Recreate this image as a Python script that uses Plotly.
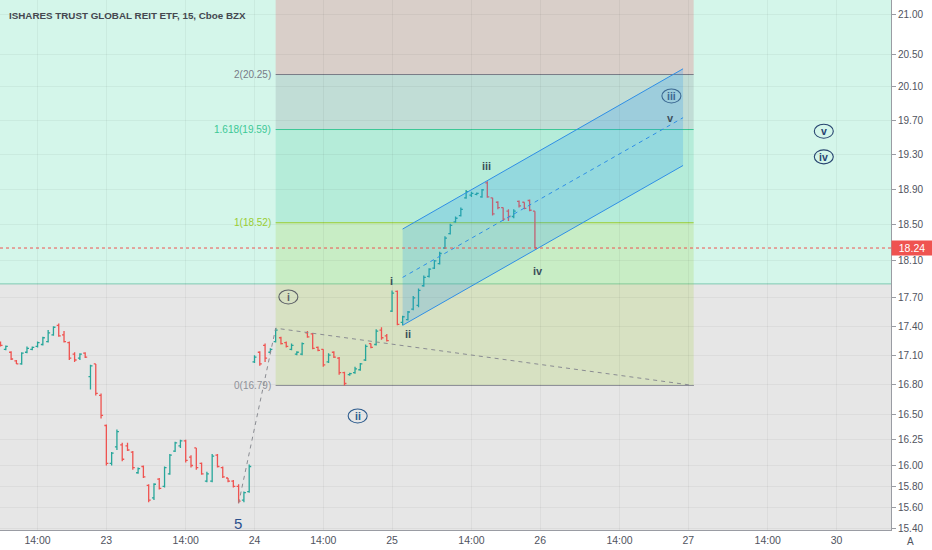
import math
import plotly.graph_objects as go

# ---------------- data ----------------
title_text = "ISHARES TRUST GLOBAL REIT ETF, 15, Cboe BZX"

# x tick positions are bar indices (15-minute bars)
tick_idx = [7, 20, 35, 48, 61, 74, 89, 102, 117, 130, 145, 158]
tick_txt = ["14:00", "23", "14:00", "24", "14:00", "25", "14:00", "26", "14:00", "27", "14:00", "30"]

price_ticks = [15.40, 15.60, 15.80, 16.00, 16.25, 16.50, 16.80, 17.10, 17.40, 17.70,
               18.10, 18.50, 18.90, 19.30, 19.70, 20.10, 20.50, 21.00]

opens = [17.23, 17.16, 17.13, 17.04, 17.01, 17.13, 17.16, 17.19, 17.21, 17.24,
         17.31, 17.41, 17.31, 17.23, 17.11, 17.07, 17.12, 16.88, 17.01, 16.69,
         16.39, 16.02, 16.18, 16.20, 16.19, 16.13, 15.93, 15.99, 15.81, 15.69,
         15.87, 15.80, 15.92, 16.14, 16.19, 16.24, 16.08, 16.17, 16.02, 15.85,
         15.85, 16.10, 15.98, 15.88, 15.85, 15.80, 15.67, 15.75, 17.03, 17.13,
         17.20, 17.13, 17.24, 17.28, 17.23, 17.16, 17.11, 17.11, 17.33, 17.32,
         17.18, 17.16, 17.03, 17.13, 17.07, 16.92, 16.90, 16.92, 16.95, 17.05,
         17.22, 17.21, 17.36, 17.30, 17.56, 17.77, 17.44, 17.47, 17.58, 17.62,
         17.83, 17.93, 18.02, 18.07, 18.24, 18.40, 18.53, 18.60, 18.80, 18.83,
         18.84, 18.81, 18.97, 18.80, 18.75, 18.69, 18.65, 18.59, 18.76, 18.75,
         18.77, 18.65]
highs = [17.24, 17.20, 17.14, 17.05, 17.13, 17.19, 17.19, 17.24, 17.29, 17.36,
         17.40, 17.43, 17.35, 17.24, 17.13, 17.12, 17.13, 17.00, 17.01, 16.71,
         16.40, 16.13, 16.35, 16.22, 16.22, 16.14, 15.98, 16.00, 15.82, 15.83,
         15.88, 15.99, 16.11, 16.23, 16.25, 16.25, 16.10, 16.17, 16.03, 15.94,
         16.11, 16.11, 15.99, 15.88, 15.86, 15.82, 15.75, 16.01, 17.10, 17.14,
         17.22, 17.17, 17.38, 17.29, 17.24, 17.22, 17.14, 17.23, 17.35, 17.33,
         17.19, 17.16, 17.12, 17.14, 17.08, 16.93, 16.92, 16.98, 17.02, 17.21,
         17.22, 17.37, 17.39, 17.32, 17.78, 17.78, 17.51, 17.56, 17.72, 17.80,
         17.94, 18.02, 18.11, 18.20, 18.37, 18.51, 18.59, 18.69, 18.89, 18.87,
         18.86, 18.90, 18.99, 18.80, 18.76, 18.69, 18.67, 18.67, 18.77, 18.75,
         18.78, 18.65]
lows = [17.19, 17.15, 17.05, 17.01, 17.00, 17.12, 17.15, 17.18, 17.20, 17.23,
        17.30, 17.29, 17.23, 17.05, 17.03, 17.05, 17.07, 16.75, 16.69, 16.46,
        16.00, 16.00, 16.15, 16.04, 16.14, 15.96, 15.92, 15.88, 15.65, 15.67,
        15.77, 15.79, 15.91, 16.13, 16.17, 16.03, 15.98, 15.96, 15.91, 15.84,
        15.84, 15.98, 15.88, 15.84, 15.79, 15.64, 15.65, 15.74, 17.02, 16.99,
        17.03, 17.12, 17.23, 17.21, 17.18, 17.15, 17.10, 17.10, 17.28, 17.16,
        17.14, 16.98, 17.02, 17.07, 16.90, 16.79, 16.89, 16.91, 16.94, 17.04,
        17.17, 17.20, 17.26, 17.24, 17.55, 17.41, 17.41, 17.46, 17.57, 17.60,
        17.82, 17.92, 18.01, 18.06, 18.23, 18.39, 18.52, 18.59, 18.79, 18.81,
        18.83, 18.80, 18.80, 18.60, 18.67, 18.54, 18.54, 18.57, 18.69, 18.67,
        18.65, 18.24]
closes = [17.20, 17.19, 17.06, 17.01, 17.12, 17.17, 17.18, 17.23, 17.28, 17.33,
          17.39, 17.30, 17.24, 17.07, 17.05, 17.11, 17.08, 16.99, 16.71, 16.49,
          16.02, 16.12, 16.33, 16.06, 16.15, 15.98, 15.97, 15.89, 15.67, 15.82,
          15.78, 15.98, 16.10, 16.22, 16.24, 16.05, 16.00, 15.98, 15.92, 15.92,
          16.09, 15.99, 15.89, 15.85, 15.80, 15.66, 15.74, 15.99, 17.08, 17.01,
          17.07, 17.16, 17.36, 17.22, 17.19, 17.20, 17.13, 17.22, 17.29, 17.17,
          17.15, 17.00, 17.10, 17.08, 16.92, 16.81, 16.91, 16.96, 17.01, 17.19,
          17.18, 17.35, 17.28, 17.25, 17.75, 17.42, 17.50, 17.55, 17.70, 17.78,
          17.92, 18.01, 18.10, 18.18, 18.35, 18.49, 18.57, 18.67, 18.87, 18.85,
          18.85, 18.89, 18.81, 18.62, 18.69, 18.56, 18.59, 18.65, 18.71, 18.68,
          18.66, 18.24]

last_price = 18.24
zone_low = 17.85            # lower edge of the mint rectangle

# trend-based fib extension: points A (wave 5 low), B (wave i high), C
fib_pts_x = [45, 52, 131]
fib_pts_y = [15.64, 17.38, 16.79]
fib_levels = ["0", "1", "1.618", "2", "2.618"]
fib_prices = [16.79, 18.52, 19.59, 20.25, 21.32]
fib_colors = ["#8f9199", "#9acd32", "#3cc896", "#787b86", "#f23645"]

# parallel channel
chan_x = [76, 129]
chan_upper = [18.45, 20.32]
chan_mid = [17.92, 19.73]
chan_lower = [17.41, 19.17]

# elliott wave labels
circ_labels = ["i", "ii", "iii", "v", "iv"]
circ_x = [54.4, 67.5, 126.8, 155.6, 155.6]
circ_y = [17.71, 16.485, 19.99, 19.57, 19.27]
circ_colors = ["#5b5e66", "#2b5a8c", "#3b6892", "#27446f", "#27446f"]

small_labels = ["i", "ii", "iii", "iv", "v"]
small_x = [73.9, 77.1, 91.9, 101.5, 126.7]
small_y = [17.88, 17.32, 19.16, 17.99, 19.725]

wave5_label = "5"
wave5_x = 44.8
wave5_y = 15.455

# ---------------- figure ----------------
FONT = "Liberation Sans"
lg = math.log10
x_min, x_max = -0.1, 168.3
y_min, y_max = 15.39, 21.18

fig = go.Figure()

fig.add_trace(go.Ohlc(
    x=list(range(len(opens))), open=opens, high=highs, low=lows, close=closes,
    increasing=dict(line=dict(color="#26a69a", width=1.3)),
    decreasing=dict(line=dict(color="#ef5350", width=1.3)),
    tickwidth=0.38, hoverinfo="skip"))

# dashed trend line of the fib extension
fig.add_trace(go.Scatter(x=fib_pts_x, y=fib_pts_y, mode="lines",
                         line=dict(color="#8a8c92", width=1, dash="4px,4px"),
                         hoverinfo="skip"))

# channel fill and lines
fig.add_trace(go.Scatter(
    x=[chan_x[0], chan_x[1], chan_x[1], chan_x[0], chan_x[0]],
    y=[chan_upper[0], chan_upper[1], chan_lower[1], chan_lower[0], chan_upper[0]],
    mode="lines", fill="toself", fillcolor="rgba(33,150,243,0.22)",
    line=dict(width=0), hoverinfo="skip"))
for ys, dash in [(chan_upper, "solid"), (chan_lower, "solid"), (chan_mid, "4px,4px")]:
    fig.add_trace(go.Scatter(x=chan_x, y=ys, mode="lines",
                             line=dict(color="#2f8fe6", width=1, dash=dash),
                             hoverinfo="skip"))

shapes = []
# mint rectangle
shapes.append(dict(type="rect", xref="x", yref="y", x0=x_min - 5, x1=x_max + 5,
                   y0=zone_low, y1=30, fillcolor="#d4f6ea", line=dict(width=0),
                   layer="below"))
shapes.append(dict(type="line", xref="x", yref="y", x0=x_min - 5, x1=x_max + 5,
                   y0=zone_low, y1=zone_low, line=dict(color="#7fc9b2", width=1),
                   layer="below"))


def rgba(hexcol, a):
    h = hexcol.lstrip("#")
    return "rgba(%d,%d,%d,%s)" % (int(h[0:2], 16), int(h[2:4], 16), int(h[4:6], 16), a)


fx0, fx1 = fib_pts_x[1], fib_pts_x[2]
for k in range(1, len(fib_prices)):
    shapes.append(dict(type="rect", xref="x", yref="y", x0=fx0, x1=fx1,
                       y0=fib_prices[k - 1], y1=fib_prices[k],
                       fillcolor=rgba(fib_colors[k], 0.2), line=dict(width=0),
                       layer="below"))
for k in range(len(fib_prices)):
    shapes.append(dict(type="line", xref="x", yref="y", x0=fx0, x1=fx1,
                       y0=fib_prices[k], y1=fib_prices[k],
                       line=dict(color=fib_colors[k], width=1), layer="below"))

# last price dotted line
shapes.append(dict(type="line", xref="paper", yref="y", x0=0, x1=1,
                   y0=last_price, y1=last_price,
                   line=dict(color="#ef5350", width=1, dash="dot"), layer="above"))

# ellipses around circled wave labels (drawn on a linear twin axis in log10 units)
for xx, yy, cc in zip(circ_x, circ_y, circ_colors):
    shapes.append(dict(type="circle", xref="x", yref="y2", xsizemode="pixel",
                       ysizemode="pixel", xanchor=xx, yanchor=lg(yy),
                       x0=-9.5, x1=9.5, y0=-7, y1=7,
                       line=dict(color=cc, width=1.1), layer="above"))

annotations = []
annotations.append(dict(xref="paper", yref="paper", x=0, y=1, xshift=7, yshift=-8,
                        xanchor="left", yanchor="top", showarrow=False,
                        text="<b>%s</b>" % title_text,
                        font=dict(family=FONT, size=9.8, color="#454850")))

for k in range(4):
    annotations.append(dict(xref="x", yref="y", x=fx0, y=lg(fib_prices[k]), xshift=-3,
                            xanchor="right", yanchor="middle", showarrow=False,
                            text="%s(%.2f)" % (fib_levels[k], fib_prices[k]),
                            font=dict(family=FONT, size=10, color=fib_colors[k])))

for t, xx, yy, cc in zip(circ_labels, circ_x, circ_y, circ_colors):
    annotations.append(dict(xref="x", yref="y", x=xx, y=lg(yy), showarrow=False,
                            xanchor="center", yanchor="middle", text="<b>%s</b>" % t,
                            font=dict(family=FONT, size=10.5, color=cc)))

for t, xx, yy in zip(small_labels, small_x, small_y):
    annotations.append(dict(xref="x", yref="y", x=xx, y=lg(yy), showarrow=False,
                            xanchor="center", yanchor="middle", text="<b>%s</b>" % t,
                            font=dict(family=FONT, size=11, color="#3d505c")))

annotations.append(dict(xref="x", yref="y", x=wave5_x, y=lg(wave5_y), showarrow=False,
                        xanchor="center", yanchor="middle", text=wave5_label,
                        font=dict(family=FONT, size=15, color="#2c528e")))

# last price tag on the axis
annotations.append(dict(xref="paper", yref="y", x=1, y=lg(last_price), xanchor="left",
                        yanchor="middle", showarrow=False, text="%.2f" % last_price,
                        bgcolor="#ef5350", width=38, height=12, borderpad=1,
                        font=dict(family=FONT, size=10.5, color="white")))
# auto-scale button
annotations.append(dict(xref="paper", yref="paper", x=910 / 891, y=-11 / 530,
                        xanchor="center", yanchor="middle", showarrow=False, text="A",
                        font=dict(family=FONT, size=10, color="#50535e")))

fig.update_layout(
    width=932, height=550,
    margin=dict(l=0, r=41, t=0, b=20),
    paper_bgcolor="white", plot_bgcolor="#e6e6e6",
    showlegend=False,
    shapes=shapes, annotations=annotations,
    font=dict(family=FONT, size=10.5, color="#50535e"),
    xaxis=dict(range=[x_min, x_max], tickmode="array", tickvals=tick_idx, ticktext=tick_txt,
               showgrid=True, gridcolor="rgba(0,0,0,0.045)", gridwidth=1,
               zeroline=False, showline=True, linecolor="#9a9ca3", linewidth=1,
               ticks="", tickfont=dict(family=FONT, size=10.5, color="#50535e"),
               rangeslider=dict(visible=False), fixedrange=True),
    yaxis=dict(type="log", side="right", range=[lg(y_min), lg(y_max)],
               tickmode="array", tickvals=price_ticks,
               ticktext=["%.2f" % v for v in price_ticks],
               showgrid=True, gridcolor="rgba(0,0,0,0.045)", gridwidth=1,
               zeroline=False, showline=True, linecolor="#9a9ca3", linewidth=1,
               ticks="outside", ticklen=4, tickcolor="#9a9ca3",
               tickfont=dict(family=FONT, size=10, color="#50535e"), fixedrange=True),
    yaxis2=dict(overlaying="y", range=[lg(y_min), lg(y_max)], visible=False,
                fixedrange=True),
)

fig.write_html("out.html", config={"displayModeBar": False},
               post_script="document.body.style.margin='0px';document.body.style.overflow='hidden';")
